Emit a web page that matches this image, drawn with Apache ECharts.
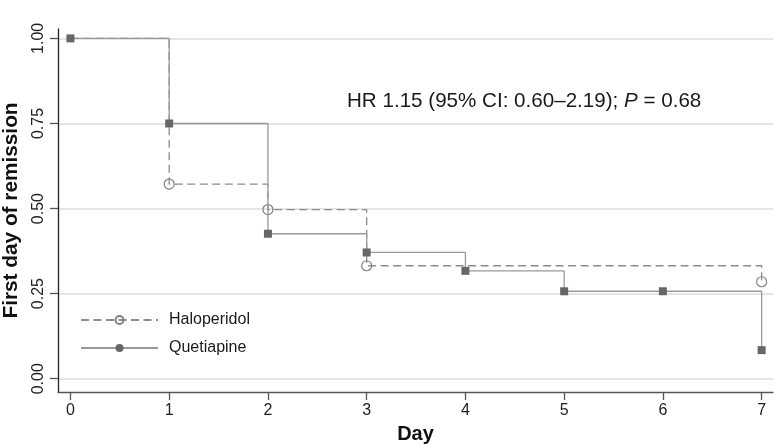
<!DOCTYPE html>
<html>
<head>
<meta charset="utf-8">
<script src="https://cdn.jsdelivr.net/npm/echarts@6/dist/echarts.min.js"></script>
<style>html,body{margin:0;padding:0;background:#fff}#c{width:775px;height:445px}</style>
</head>
<body>
<div id="c"></div>
<script>
// Data
const dayTicks = [0, 1, 2, 3, 4, 5, 6, 7];
const yTicks = [0, 0.25, 0.5, 0.75, 1.0];
const haloDays = [0, 1, 2, 3, 7];
const haloValues = [1.0, 0.572, 0.497, 0.332, 0.285];
const quetDays = [0, 1, 2, 3, 4, 5, 6, 7];
const quetValues = [1.0, 0.75, 0.426, 0.371, 0.317, 0.257, 0.257, 0.084];
const seriesNames = ['Haloperidol', 'Quetiapine'];
const annotation = ['HR 1.15 (95% CI: 0.60\u20132.19); ', 'P', ' = 0.68'];

const FONT = '"Liberation Sans", Arial, Helvetica, sans-serif';
const chart = echarts.init(document.getElementById('c'), null, {renderer: 'canvas'});

const haloData = haloDays.map((d, i) => i === 0 ? {value: [d, haloValues[i]], symbol: 'none'} : [d, haloValues[i]]);
const quetData = quetDays.map((d, i) => ({value: [d, quetValues[i]], symbol: 'rect'}));

chart.setOption({
  animation: false,
  backgroundColor: '#fff',
  textStyle: {fontFamily: FONT},
  title: {
    left: 347, top: 91, padding: 0,
    text: '{a|' + annotation[0] + '}{b|' + annotation[1] + '}{a|' + annotation[2] + '}',
    textStyle: {
      fontWeight: 'normal',
      rich: {
        a: {fontSize: 20.6, color: '#1a1a1a', fontWeight: 'normal', fontFamily: FONT},
        b: {fontSize: 20.6, color: '#1a1a1a', fontWeight: 'normal', fontStyle: 'italic', fontFamily: FONT}
      }
    }
  },
  legend: {
    orient: 'vertical', left: 80, top: 312, padding: 0,
    itemWidth: 77, itemHeight: 10, itemGap: 12,
    data: seriesNames,
    textStyle: {fontSize: 16, color: '#1a1a1a', fontFamily: FONT, padding: [0, 0, 0, 6]},
    selectedMode: false
  },
  grid: {left: 58, right: 2, top: 29, bottom: 53, containLabel: false, outerBoundsMode: 'none'},
  xAxis: {
    type: 'value', min: -0.126, max: 7.115,
    name: 'Day', nameLocation: 'middle', nameGap: 32,
    nameTextStyle: {fontSize: 20, fontWeight: 'bold', color: '#111', fontFamily: FONT},
    axisLine: {onZero: false, lineStyle: {color: '#555', width: 1.3}},
    axisTick: {show: true, length: 8, customValues: dayTicks, lineStyle: {color: '#555', width: 1.3}},
    axisLabel: {customValues: dayTicks, margin: 11, fontSize: 16, color: '#222', fontFamily: FONT},
    splitLine: {show: false}
  },
  yAxis: {
    type: 'value', min: -0.039, max: 1.0276,
    name: 'First day of remission', nameLocation: 'middle', nameGap: 36,
    nameTextStyle: {fontSize: 20.8, fontWeight: 'bold', color: '#111', fontFamily: FONT},
    axisLine: {show: true, onZero: false, lineStyle: {color: '#222', width: 1.3}},
    axisTick: {show: true, length: 8, customValues: yTicks, lineStyle: {color: '#555', width: 1.3}},
    axisLabel: {customValues: yTicks, rotate: 90, margin: 11, fontSize: 16, color: '#222', fontFamily: FONT,
      formatter: v => v.toFixed(2)},
    splitLine: {show: true, lineStyle: {color: '#dcdcdc', width: 1.5}}
  },
  series: [
    {
      name: seriesNames[0], type: 'line', step: 'end',
      data: haloData,
      symbol: 'circle', symbolSize: 10,
      itemStyle: {color: 'rgba(255,255,255,0)', borderColor: '#808080', borderWidth: 1.2},
      lineStyle: {color: '#8c8c8c', width: 1.3, type: [8, 4.5]},
      z: 2
    },
    {
      name: seriesNames[1], type: 'line', step: 'end',
      data: quetData,
      symbol: 'circle', symbolSize: 8,
      itemStyle: {color: '#666'},
      lineStyle: {color: '#999', width: 1.3, type: 'solid'},
      z: 3
    }
  ]
});
</script>
</body>
</html>
